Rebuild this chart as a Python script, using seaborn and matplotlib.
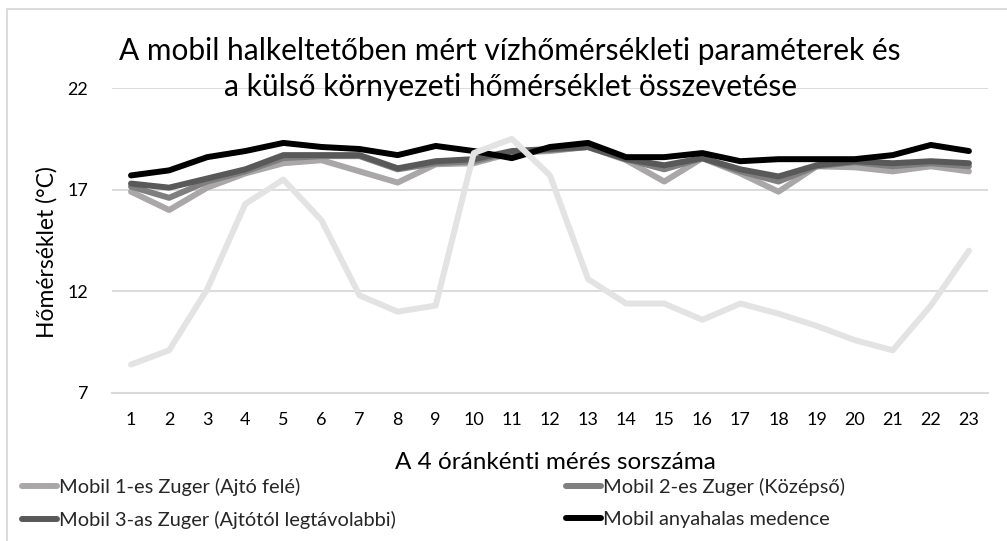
import matplotlib
matplotlib.use("Agg")
import matplotlib.pyplot as plt
from matplotlib.patches import Rectangle
import pandas as pd
import seaborn as sns

# measurement index (every 4 hours)
meres = list(range(1, 24))

# water temperatures (°C)
zuger_1 = [16.9, 16.0, 17.1, 17.8, 18.3, 18.45, 17.9, 17.35, 18.25, 18.3, 18.8, 18.9,
           19.1, 18.45, 17.4, 18.55, 17.8, 16.9, 18.15, 18.1, 17.9, 18.15, 17.9]
zuger_2 = [17.15, 16.6, 17.4, 17.9, 18.55, 18.65, 18.65, 18.0, 18.3, 18.4, 18.85, 18.95,
           19.1, 18.5, 18.0, 18.55, 17.9, 17.4, 18.15, 18.35, 18.15, 18.3, 18.15]
zuger_3 = [17.3, 17.1, 17.55, 18.0, 18.7, 18.7, 18.7, 18.05, 18.4, 18.5, 18.9, 19.0,
           19.1, 18.5, 18.2, 18.55, 18.0, 17.65, 18.2, 18.4, 18.3, 18.4, 18.3]
anyahalas = [17.7, 17.95, 18.6, 18.9, 19.3, 19.1, 19.0, 18.7, 19.15, 18.9, 18.55, 19.1,
             19.3, 18.6, 18.6, 18.8, 18.4, 18.5, 18.5, 18.5, 18.7, 19.2, 18.9]
kulso = [8.4, 9.1, 12.1, 16.3, 17.5, 15.5, 11.8, 11.0, 11.3, 18.8, 19.5, 17.7,
         12.6, 11.4, 11.4, 10.6, 11.4, 10.9, 10.3, 9.6, 9.1, 11.3, 14.0]

series_names = [
    "Mobil 1-es Zuger (Ajtó felé)",
    "Mobil 2-es Zuger (Középső)",
    "Mobil 3-as Zuger (Ajtótól legtávolabbi)",
    "Mobil anyahalas medence",
    "Külső környezeti hőmérséklet",
]
series_colors = ["#a9a7a7", "#7f7f7f", "#595959", "#000000", "#e3e3e3"]
y_ticks = [7, 12, 17, 22]

TITLE = ("A mobil halkeltetőben mért vízhőmérsékleti paraméterek és\n"
         "a külső környezeti hőmérséklet összevetése")

sns.set_theme(style="white")
plt.rcParams["font.family"] = ["Lato", "DejaVu Sans"]

GRID = "#d9d9d9"


def build_frame():
    cols = [zuger_1, zuger_2, zuger_3, anyahalas, kulso]
    parts = []
    for name, vals in zip(series_names, cols):
        parts.append(pd.DataFrame({"meres": meres, "homerseklet": vals, "sorozat": name}))
    return pd.concat(parts, ignore_index=True)


def main():
    df = build_frame()
    fig = plt.figure(figsize=(10.07, 5.41), dpi=100)
    ax = fig.add_axes([0.1112, 0.2736, 0.8699, 0.5637])

    sns.lineplot(data=df, x="meres", y="homerseklet", hue="sorozat",
                 hue_order=series_names, palette=dict(zip(series_names, series_colors)),
                 linewidth=4.3, errorbar=None, legend=False, ax=ax)
    for line in ax.get_lines():
        line.set_solid_joinstyle("round")
        line.set_solid_capstyle("round")

    ax.set_xlim(0.5, 23.5)
    ax.set_ylim(7, 22)
    ax.set_yticks(y_ticks)
    ax.set_xticks(meres)
    ax.set_xticks([0.5, 6.5, 12.5, 18.5], minor=True)
    ax.yaxis.grid(True, color=GRID, linewidth=1.3)
    ax.set_axisbelow(True)
    for side in ("top", "right", "left"):
        ax.spines[side].set_visible(False)
    ax.spines["bottom"].set_color(GRID)
    ax.spines["bottom"].set_linewidth(1.5)

    ax.tick_params(axis="x", which="major", length=0, pad=14, labelsize=13, labelcolor="#000000")
    ax.tick_params(axis="x", which="minor", direction="in", length=5.5, width=1.3, color=GRID)
    ax.tick_params(axis="y", length=0, pad=17, labelsize=13, labelcolor="#000000")

    ax.set_xlabel("A 4 óránkénti mérés sorszáma", fontsize=17.5, color="#000000")
    ax.set_ylabel("Hőmérséklet (°C)", fontsize=16.5, color="#000000")
    ax.xaxis.set_label_coords(0.5057, -0.192)
    ax.yaxis.set_label_coords(-0.062, 0.462)

    fig.text(0.5065, 1 - 69 / 541, TITLE, ha="center", va="center",
             fontsize=21.5, linespacing=1.38, color="#000000")

    # legend lists only the four water series, filled row by row like the original
    lines = ax.get_lines()
    order = [0, 2, 1, 3]
    fig.legend([lines[i] for i in order], [series_names[i] for i in order],
               loc="upper left", bbox_to_anchor=(22 / 1007, 1 - 478 / 541), ncol=2,
               frameon=False, fontsize=14.4, handlelength=1.75, handletextpad=0.1,
               columnspacing=8.5, labelspacing=0.75, borderpad=0, borderaxespad=0)

    fig.patches.append(Rectangle((7 / 1007, -0.1), 1.1, 1.1 - 9 / 541,
                                 transform=fig.transFigure, fill=False,
                                 edgecolor=GRID, linewidth=1.3))

    fig.savefig("out.png", dpi=100)
    plt.close(fig)


if __name__ == "__main__":
    main()
